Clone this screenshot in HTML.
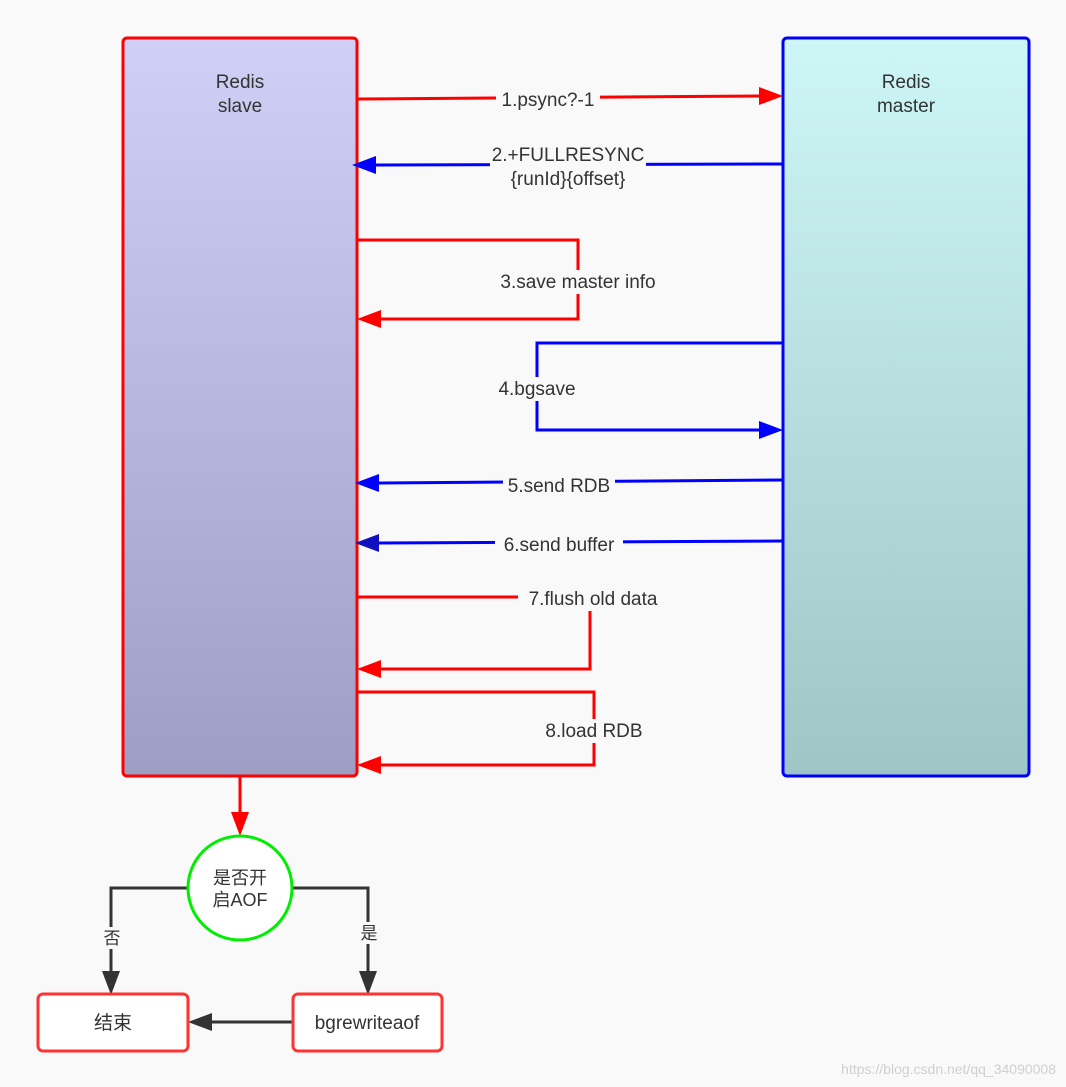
<!DOCTYPE html>
<html><head><meta charset="utf-8"><style>
html,body{margin:0;padding:0;background:#f9f9f9;}
svg{display:block;}
text{font-family:"Liberation Sans","Noto Sans CJK SC",sans-serif;fill:#333;font-size:19px;}
</style></head><body>
<svg width="1066" height="1087" viewBox="0 0 1066 1087" xmlns="http://www.w3.org/2000/svg">
<defs>
<linearGradient id="gs" x1="0" y1="0" x2="0" y2="1"><stop offset="0" stop-color="#d0d0f6"/><stop offset="1" stop-color="#9e9ec4"/></linearGradient>
<linearGradient id="gm" x1="0" y1="0" x2="0" y2="1"><stop offset="0" stop-color="#cdf6f6"/><stop offset="1" stop-color="#9fc6c6"/></linearGradient>
</defs>
<rect width="1066" height="1087" fill="#f9f9f9"/>
<rect x="123" y="38" width="234" height="738" rx="4" fill="url(#gs)" stroke="#ff0000" stroke-width="3"/>
<rect x="783" y="38" width="246" height="738" rx="4" fill="url(#gm)" stroke="#0000ff" stroke-width="3"/>
<text x="240" y="88" text-anchor="middle">Redis</text>
<text x="240" y="112" text-anchor="middle">slave</text>
<text x="906" y="88" text-anchor="middle">Redis</text>
<text x="906" y="112" text-anchor="middle">master</text>

<g fill="none" stroke-width="3">
<path d="M357 99 L760 96" stroke="#ff0000"/>
<path d="M783 164 L375 165" stroke="#0000ff"/>
<path d="M357 240 L578 240 L578 319 L380 319" stroke="#ff0000"/>
<path d="M783 343 L537 343 L537 430 L760 430" stroke="#0000ff"/>
<path d="M783 480 L378 483" stroke="#0000ff"/>
<path d="M783 541 L378 543" stroke="#0000ff"/>
<path d="M357 597 L590 597 L590 669 L380 669" stroke="#ff0000"/>
<path d="M357 692 L594 692 L594 765 L380 765" stroke="#ff0000"/>
<path d="M240 776 L240 815" stroke="#ff0000"/>
<path d="M188 888 L111 888 L111 975" stroke="#333"/>
<path d="M292 888 L368 888 L368 975" stroke="#333"/>
<path d="M293 1022 L210 1022" stroke="#333"/>
</g>
<g>
<polygon points="783,96 759,87 759,105" fill="#ff0000"/>
<polygon points="352,165 376,156 376,174" fill="#0000ff"/>
<polygon points="357,319 381,310 381,328" fill="#ff0000"/>
<polygon points="783,430 759,421 759,439" fill="#0000ff"/>
<polygon points="355,483 379,474 379,492" fill="#0000ff"/>
<polygon points="355,543 379,534 379,552" fill="#1010c0"/>
<polygon points="357,669 381,660 381,678" fill="#ff0000"/>
<polygon points="357,765 381,756 381,774" fill="#ff0000"/>
<polygon points="240,836 231,812 249,812" fill="#ff0000"/>
<polygon points="111,995 102,971 120,971" fill="#333"/>
<polygon points="368,995 359,971 377,971" fill="#333"/>
<polygon points="188,1022 212,1013 212,1031" fill="#333"/>
</g>
<g fill="#f9f9f9">
<rect x="496" y="88" width="104" height="24"/>
<rect x="490" y="143" width="156" height="48"/>
<rect x="490" y="270" width="176" height="24"/>
<rect x="493" y="377" width="88" height="24"/>
<rect x="503" y="474" width="112" height="24"/>
<rect x="495" y="533" width="128" height="24"/>
<rect x="518" y="587" width="150" height="24"/>
<rect x="540" y="719" width="108" height="24"/>
<rect x="101" y="927" width="22" height="22"/>
<rect x="358" y="922" width="22" height="22"/>
</g>
<text x="548" y="106" text-anchor="middle">1.psync?-1</text>
<text x="568" y="161" text-anchor="middle">2.+FULLRESYNC</text>
<text x="568" y="185" text-anchor="middle">{runId}{offset}</text>
<text x="578" y="288" text-anchor="middle">3.save master info</text>
<text x="537" y="395" text-anchor="middle">4.bgsave</text>
<text x="559" y="492" text-anchor="middle">5.send RDB</text>
<text x="559" y="551" text-anchor="middle">6.send buffer</text>
<text x="593" y="605" text-anchor="middle">7.flush old data</text>
<text x="594" y="737" text-anchor="middle">8.load RDB</text>

<circle cx="240" cy="888" r="52" fill="#fff" stroke="#00ee00" stroke-width="3"/>
<text x="240" y="884" text-anchor="middle" style="font-size:18px">是否开</text>
<text x="240" y="906" text-anchor="middle" style="font-size:18px">启AOF</text>
<text x="112" y="944" text-anchor="middle" style="font-size:17px">否</text>
<text x="369" y="939" text-anchor="middle" style="font-size:17px">是</text>
<rect x="38" y="994" width="150" height="57" rx="5" fill="#fff" stroke="#ff3333" stroke-width="3"/>
<rect x="293" y="994" width="149" height="57" rx="5" fill="#fff" stroke="#ff3333" stroke-width="3"/>
<text x="113" y="1029" text-anchor="middle">结束</text>
<text x="367" y="1029" text-anchor="middle">bgrewriteaof</text>
<text x="1056" y="1074" text-anchor="end" style="font-size:14px;fill:#d0d0d0">https://blog.csdn.net/qq_34090008</text>
</svg>
</body></html>
